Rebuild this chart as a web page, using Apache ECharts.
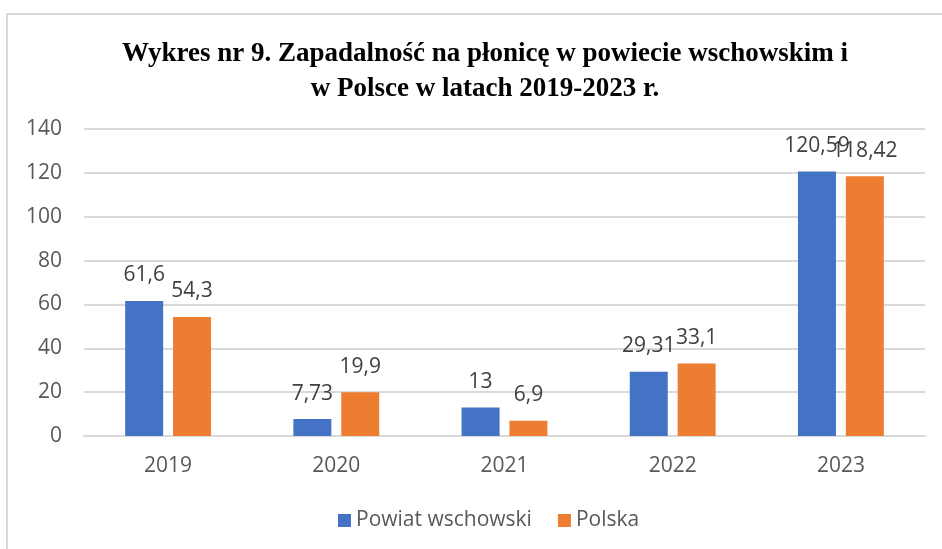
<!DOCTYPE html>
<html>
<head>
<meta charset="utf-8">
<script src="https://cdn.jsdelivr.net/npm/echarts@6/dist/echarts.min.js"></script>
<style>
  html, body { margin: 0; padding: 0; background: #fff; }
  #chart { width: 942px; height: 549px; }
</style>
</head>
<body>
<div id="chart"></div>
<script>
const years = ['2019', '2020', '2021', '2022', '2023']
const powiat = [61.6, 7.73, 13, 29.31, 120.59]
const polska = [54.3, 19.9, 6.9, 33.1, 118.42]
const yTicks = { min: 0, max: 140, interval: 20 }

const fmt = (p) => String(p.value).replace('.', ',')
const sans = "'Open Sans', 'Noto Sans', sans-serif"

const chart = echarts.init(document.getElementById('chart'))
chart.setOption({
  animation: false,
  graphic: [{
    type: 'rect',
    shape: { x: 7, y: 14, width: 960, height: 560 },
    style: { fill: 'none', stroke: '#d9d9d9', lineWidth: 2 }
  }],
  title: {
    text: 'Wykres nr 9. Zapadalność na płonicę w powiecie wschowskim i\nw Polsce w latach 2019-2023 r.',
    left: 480,
    top: 32,
    textAlign: 'center',
    textStyle: {
      fontFamily: "'Liberation Serif', 'Times New Roman', serif",
      fontWeight: 'bold',
      fontSize: 27,
      lineHeight: 35,
      color: '#000'
    }
  },
  legend: {
    bottom: 13,
    left: 333,
    itemWidth: 13,
    itemHeight: 13,
    itemGap: 26,
    icon: 'rect',
    textStyle: { fontFamily: sans, fontSize: 21, color: '#595959' },
    data: ['Powiat wschowski', 'Polska']
  },
  grid: { left: 84, right: 17, top: 129, bottom: 113 },
  xAxis: {
    type: 'category',
    data: years,
    axisLine: { lineStyle: { color: '#d9d9d9', width: 2 } },
    axisTick: { show: false },
    axisLabel: { fontFamily: sans, fontSize: 21, color: '#595959', margin: 20 }
  },
  yAxis: {
    type: 'value',
    min: yTicks.min,
    max: yTicks.max,
    interval: yTicks.interval,
    axisLine: { show: false },
    axisTick: { show: false },
    splitLine: { lineStyle: { color: '#d9d9d9', width: 2 } },
    axisLabel: { fontFamily: sans, fontSize: 21, color: '#595959', margin: 22 }
  },
  series: [
    {
      name: 'Powiat wschowski',
      type: 'bar',
      data: powiat,
      color: '#4472c4',
      barWidth: 38,
      barGap: '26%',
      label: { show: true, position: 'top', distance: 15, formatter: fmt, fontFamily: sans, fontSize: 21, color: '#404040' }
    },
    {
      name: 'Polska',
      type: 'bar',
      data: polska,
      color: '#ed7d31',
      barWidth: 38,
      label: { show: true, position: 'top', distance: 15, formatter: fmt, fontFamily: sans, fontSize: 21, color: '#404040' }
    }
  ]
})
</script>
</body>
</html>
